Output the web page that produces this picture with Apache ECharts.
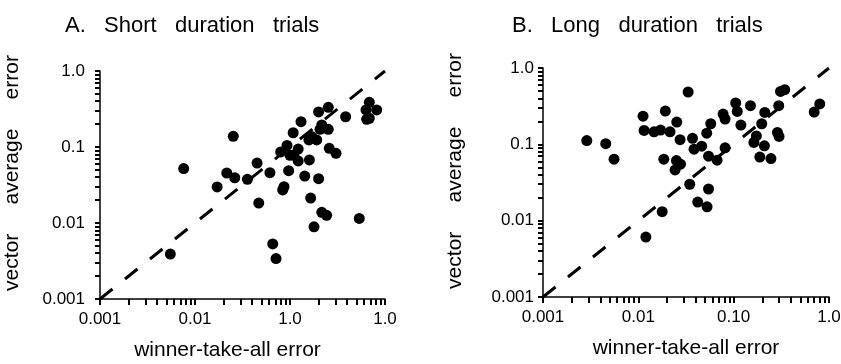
<!DOCTYPE html>
<html>
<head>
<meta charset="utf-8">
<script src="https://cdn.jsdelivr.net/npm/echarts@6/dist/echarts.min.js"></script>
<style>
html, body { margin: 0; padding: 0; background: #fff; }
#chart { width: 841px; height: 364px; }
</style>
</head>
<body>
<div id="chart"></div>
<script>
// A. short duration trials: [winner-take-all error, vector average error]
var shortTrials = [
    [0.0076, 0.052], [0.0253, 0.138], [0.0055, 0.0039], [0.0171, 0.0298], [0.0216, 0.0455],
    [0.0262, 0.0394], [0.0356, 0.0376], [0.045, 0.0615], [0.0469, 0.0183], [0.0615, 0.046],
    [0.0658, 0.0053], [0.0713, 0.0034], [0.0838, 0.0272], [0.0865, 0.030], [0.0798, 0.086],
    [0.093, 0.105], [0.0968, 0.0488], [0.108, 0.154], [0.100, 0.0778], [0.122, 0.094],
    [0.122, 0.0655], [0.110, 0.0785], [0.1306, 0.215], [0.143, 0.0415], [0.160, 0.0675],
    [0.165, 0.0213], [0.179, 0.0089], [0.200, 0.289], [0.200, 0.0383], [0.216, 0.0138],
    [0.243, 0.0126], [0.253, 0.333], [0.207, 0.171], [0.253, 0.171], [0.259, 0.096],
    [0.305, 0.0826], [0.158, 0.124], [0.191, 0.124], [0.169, 0.137], [0.216, 0.195],
    [0.385, 0.25], [0.536, 0.0115], [0.684, 0.387], [0.631, 0.307], [0.641, 0.231],
    [0.818, 0.307], [0.684, 0.239]
];
// B. long duration trials
var longTrials = [
    [0.00288, 0.112], [0.00455, 0.102], [0.00556, 0.0638], [0.0112, 0.234], [0.0115, 0.152],
    [0.0146, 0.146], [0.0171, 0.154], [0.0192, 0.273], [0.0215, 0.146], [0.0253, 0.196],
    [0.0274, 0.115], [0.0185, 0.0638], [0.0251, 0.0612], [0.0277, 0.055], [0.0243, 0.0462],
    [0.0333, 0.485], [0.037, 0.120], [0.0384, 0.0865], [0.0462, 0.0946], [0.0346, 0.030],
    [0.042, 0.0175], [0.0526, 0.0152], [0.0545, 0.026], [0.0178, 0.0131], [0.012, 0.0061],
    [0.0522, 0.140], [0.0575, 0.186], [0.0545, 0.070], [0.067, 0.062], [0.0813, 0.090],
    [0.0775, 0.249], [0.0813, 0.214], [0.105, 0.348], [0.109, 0.270], [0.119, 0.179],
    [0.150, 0.321], [0.197, 0.186], [0.173, 0.129], [0.163, 0.106], [0.210, 0.0955],
    [0.188, 0.068], [0.246, 0.065], [0.212, 0.262], [0.297, 0.321], [0.288, 0.143],
    [0.299, 0.127], [0.310, 0.494], [0.343, 0.520], [0.699, 0.265], [0.80, 0.338]
];
var diagonal = [[0.001, 0.001], [1, 1]];
var majorTicks = [0.001, 0.01, 0.1, 1];
var xLabelsA = ['0.001', '0.01', '1.0', '1.0'];
var xLabelsB = ['0.001', '0.01', '0.10', '1.0'];
var yLabels = ['0.001', '0.01', '0.1', '1.0'];
var minorTicks = [
    0.002, 0.003, 0.004, 0.005, 0.006, 0.007, 0.008, 0.009,
    0.02, 0.03, 0.04, 0.05, 0.06, 0.07, 0.08, 0.09,
    0.2, 0.3, 0.4, 0.5, 0.6, 0.7, 0.8, 0.9
];
var allTicks = majorTicks.concat(minorTicks);

var FONT = '"Liberation Sans", Arial, Helvetica, sans-serif';

var logIndex = function (v) { return Math.round(Math.log(v) / Math.LN10) + 3; };

var makeX = function (idx, labels, pad) {
    return {
        type: 'log', gridIndex: idx, min: 0.001, max: 1, logBase: 10,
        axisLine: { show: true, onZero: false, lineStyle: { color: '#000', width: 1.5 } },
        axisTick: { show: true, inside: false, length: 6, customValues: allTicks,
            lineStyle: { color: '#000', width: 2 } },
        splitLine: { show: false },
        axisLabel: {
            margin: 12, color: '#000', fontFamily: FONT, fontSize: 17,
            customValues: majorTicks,
            formatter: function (v) { return labels[logIndex(v)]; }
        },
        name: 'winner-take-all error', nameLocation: 'middle', nameGap: 41,
        nameTextStyle: { color: '#000', fontFamily: FONT, fontSize: 21, padding: pad }
    };
};

var makeY = function (idx, margin, shift) {
    return {
        type: 'log', gridIndex: idx, min: 0.001, max: 1, logBase: 10,
        axisLine: { show: true, onZero: false, lineStyle: { color: '#000', width: 1.5 } },
        axisTick: { show: true, inside: false, length: 5, customValues: allTicks,
            lineStyle: { color: '#000', width: 2 } },
        splitLine: { show: false },
        axisLabel: {
            margin: margin, color: '#000', fontFamily: FONT, fontSize: 17,
            customValues: majorTicks,
            formatter: function (v) { return yLabels[logIndex(v)]; }
        },
        name: 'vector     average     error', nameLocation: 'middle', nameRotate: 90,
        nameGap: 77,
        nameTextStyle: { color: '#000', fontFamily: FONT, fontSize: 21, padding: [0, 0, 0, shift] }
    };
};

var chart = echarts.init(document.getElementById('chart'));

var option = {
    backgroundColor: '#fff',
    animation: false,
    title: [
        { text: 'A.   Short   duration   trials', left: 60, top: 10,
          textStyle: { color: '#000', fontFamily: FONT, fontSize: 22, fontWeight: 'normal' } },
        { text: 'B.   Long   duration   trials', left: 507, top: 10,
          textStyle: { color: '#000', fontFamily: FONT, fontSize: 22, fontWeight: 'normal' } }
    ],
    grid: [
        { left: 100, top: 71, width: 285, height: 228, outerBoundsMode: 'none' },
        { left: 543, top: 68, width: 286, height: 229, outerBoundsMode: 'none' }
    ],
    xAxis: [makeX(0, xLabelsA, [0, 30, 0, 0]), makeX(1, xLabelsB, [0, 0, 0, 0])],
    yAxis: [makeY(0, 15, 24), makeY(1, 9, 23)],
    series: [
        { type: 'line', xAxisIndex: 0, yAxisIndex: 0, data: diagonal, symbol: 'none',
          lineStyle: { color: '#000', width: 3, type: [16, 16] }, z: 1 },
        { type: 'line', xAxisIndex: 1, yAxisIndex: 1, data: diagonal, symbol: 'none',
          lineStyle: { color: '#000', width: 3, type: [16, 16] }, z: 1 },
        { type: 'scatter', xAxisIndex: 0, yAxisIndex: 0, data: shortTrials,
          symbol: 'circle', symbolSize: 11, itemStyle: { color: '#000', opacity: 1 }, z: 3 },
        { type: 'scatter', xAxisIndex: 1, yAxisIndex: 1, data: longTrials,
          symbol: 'circle', symbolSize: 11, itemStyle: { color: '#000', opacity: 1 }, z: 3 }
    ]
};
chart.setOption(option);
</script>
</body>
</html>
